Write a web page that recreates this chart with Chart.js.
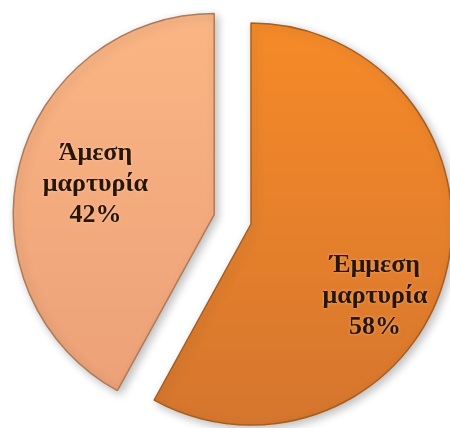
<!DOCTYPE html>
<html>
<head>
<meta charset="utf-8">
<script src="https://cdn.jsdelivr.net/npm/chart.js@4/dist/chart.umd.min.js"></script>
<style>
  html, body { margin: 0; padding: 0; background: #ffffff; }
  #wrap { width: 450px; height: 428px; position: relative; }
</style>
</head>
<body>
<div id="wrap"><canvas id="pie"></canvas></div>
<script>
// Share of testimony type
const categories = ['Έμμεση μαρτυρία', 'Άμεση μαρτυρία'];
const labelLines = [['Έμμεση', 'μαρτυρία'], ['Άμεση', 'μαρτυρία']];
const shares = [58, 42];

// Top and bottom tones of each slice's vertical gradient
const sliceTones = [['#f88b28', '#d5762e'], ['#fbb685', '#eb9f76']];

function sliceFill(context) {
  const chart = context.chart;
  const t = sliceTones[context.dataIndex];
  if (!chart.chartArea) return t[0];
  const g = chart.ctx.createLinearGradient(0, 0, 0, chart.height);
  g.addColorStop(0, t[0]);
  g.addColorStop(1, t[1]);
  return g;
}

// Pull slices away from the centre by a fixed distance (pixels) without
// enlarging their radius, by moving the arc element's own centre
const explode = {
  id: 'explode',
  afterDatasetsUpdate(chart, args, opts) {
    const meta = chart.getDatasetMeta(0);
    meta.data.forEach((arc, i) => {
      const d = opts.distance[i] || 0;
      if (!d) return;
      const half = (arc.startAngle + arc.endAngle) / 2;
      arc.x += Math.cos(half) * d;
      arc.y += Math.sin(half) * d;
    });
  }
};

// Soft drop shadow under the slices
const shadowPlugin = {
  id: 'sliceShadow',
  beforeDatasetsDraw(chart) {
    const ctx = chart.ctx;
    ctx.save();
    ctx.shadowColor = 'rgba(70,70,70,0.35)';
    ctx.shadowBlur = 8;
    ctx.shadowOffsetX = 3;
    ctx.shadowOffsetY = 3;
  },
  afterDatasetsDraw(chart) {
    chart.ctx.restore();
  }
};

// Category name and percentage written inside each slice
const sliceLabels = {
  id: 'sliceLabels',
  afterDatasetsDraw(chart, args, opts) {
    const ctx = chart.ctx;
    const meta = chart.getDatasetMeta(0);
    const values = chart.data.datasets[0].data;
    const total = values.reduce((a, b) => a + b, 0);
    meta.data.forEach((arc, i) => {
      const half = (arc.startAngle + arc.endAngle) / 2;
      const ang = half + opts.angleShift[i];
      const r = arc.outerRadius * opts.radial[i];
      const cx = arc.x + Math.cos(ang) * r;
      const cy = arc.y + Math.sin(ang) * r;
      const lines = labelLines[i].concat([Math.round(values[i] / total * 100) + '%']);
      ctx.save();
      ctx.font = opts.font;
      ctx.fillStyle = opts.color;
      ctx.textAlign = 'center';
      ctx.textBaseline = 'middle';
      ctx.shadowColor = 'rgba(255,230,200,0.55)';
      ctx.shadowBlur = 3;
      const top = cy - (lines.length - 1) * opts.lineHeight / 2;
      lines.forEach((s, k) => ctx.fillText(s, cx, top + k * opts.lineHeight));
      ctx.restore();
    });
  }
};

new Chart(document.getElementById('pie'), {
  type: 'pie',
  data: {
    labels: categories,
    datasets: [{
      data: shares,
      backgroundColor: sliceFill,
      borderColor: ['#a95d1e', '#b07a5a'],
      borderWidth: 1.5
    }]
  },
  options: {
    responsive: true,
    maintainAspectRatio: false,
    animation: false,
    radius: 201,
    layout: { padding: { left: 52, right: 0, top: 20, bottom: 0 } },
    plugins: {
      legend: { display: false },
      tooltip: { enabled: false },
      explode: { distance: [0, 38] },
      sliceLabels: {
        font: 'bold 26px "Liberation Serif", "Times New Roman", serif',
        color: '#2a1505',
        lineHeight: 31,
        radial: [0.713, 0.61],
        angleShift: [0.274, 0]
      }
    }
  },
  plugins: [explode, shadowPlugin, sliceLabels]
});
</script>
</body>
</html>
